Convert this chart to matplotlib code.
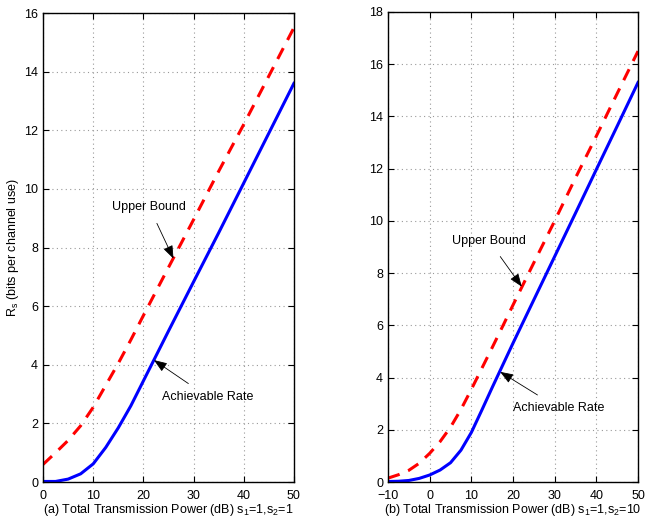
import matplotlib.pyplot as plt
import numpy as np

plt.rcParams['font.family'] = ['Liberation Sans', 'DejaVu Sans']
plt.rcParams['mathtext.default'] = 'regular'
fontsize = 9

# (a) s1=1, s2=1
pa = np.array([0, 2.5, 5, 7.5, 10, 12.5, 15, 17.5, 20, 22.5, 25, 30, 35, 40, 45, 50])
upper_a = np.array([0.6, 1.0, 1.42, 1.92, 2.55, 3.3, 4.05, 4.85, 5.68, 6.5, 7.32, 8.95, 10.6, 12.2, 13.85, 15.5])
rate_a = np.array([0.02, 0.02, 0.1, 0.28, 0.62, 1.18, 1.85, 2.6, 3.45, 4.3, 5.15, 6.83, 8.5, 10.2, 11.9, 13.6])

# (b) s1=1, s2=10
pb = np.array([-10, -7.5, -5, -2.5, 0, 2.5, 5, 7.5, 10, 12.5, 15, 17.5, 20, 25, 30, 35, 40, 45, 50])
upper_b = np.array([0.15, 0.28, 0.45, 0.72, 1.1, 1.55, 2.1, 2.78, 3.55, 4.35, 5.15, 5.96, 6.78, 8.4, 10.0, 11.65, 13.25, 14.88, 16.5])
rate_b = np.array([0.02, 0.03, 0.06, 0.14, 0.27, 0.46, 0.74, 1.22, 1.9, 2.75, 3.62, 4.47, 5.32, 6.98, 8.64, 10.3, 11.97, 13.63, 15.3])

fig = plt.figure(figsize=(6.45, 5.2), dpi=100)
ax1 = fig.add_axes([0.0667, 0.073, 0.389, 0.902])
ax2 = fig.add_axes([0.6016, 0.073, 0.3876, 0.904])

arrow = dict(arrowstyle='-|>,head_length=0.8,head_width=0.3', color='black', lw=0.6,
             shrinkA=6, shrinkB=0, mutation_scale=10)


def style(ax):
    ax.grid(True, linestyle=(0, (1, 3)), color='#999999', linewidth=0.8)
    ax.tick_params(direction='in', top=True, right=True, labelsize=fontsize, length=4)
    ax.tick_params(axis='x', pad=6)
    for s in ax.spines.values():
        s.set_linewidth(1.0)


ax1.plot(pa, upper_a, color='red', linestyle='--', linewidth=2.2, dashes=(4, 3))
ax1.plot(pa, rate_a, color='blue', linewidth=2.2)
ax1.set_xlim(0, 50)
ax1.set_ylim(0, 16)
ax1.set_xticks(np.arange(0, 51, 10))
ax1.set_yticks(np.arange(0, 17, 2))
ax1.set_xlabel('(a) Total Transmission Power (dB) s$_1$=1,s$_2$=1', fontsize=fontsize, labelpad=0)
ax1.set_ylabel('R$_s$ (bits per channel use)', fontsize=fontsize, labelpad=2)
ax1.annotate('Upper Bound', xy=(26, 7.62), xytext=(13.8, 9.38), fontsize=fontsize, va='center',
             arrowprops=arrow)
ax1.annotate('Achievable Rate', xy=(22.1, 4.16), xytext=(23.8, 2.9), fontsize=fontsize, va='center',
             arrowprops=arrow)
style(ax1)

ax2.plot(pb, upper_b, color='red', linestyle='--', linewidth=2.2, dashes=(4, 3))
ax2.plot(pb, rate_b, color='blue', linewidth=2.2)
ax2.set_xlim(-10, 50)
ax2.set_ylim(0, 18)
ax2.set_xticks(np.arange(-10, 51, 10))
ax2.set_yticks(np.arange(0, 19, 2))
ax2.set_xlabel('(b) Total Transmission Power (dB) s$_1$=1,s$_2$=10', fontsize=fontsize, labelpad=0)
ax2.annotate('Upper Bound', xy=(22.1, 7.48), xytext=(5.4, 9.23), fontsize=fontsize, va='center',
             arrowprops=arrow)
ax2.annotate('Achievable Rate', xy=(16.9, 4.22), xytext=(20.0, 2.83), fontsize=fontsize, va='center',
             arrowprops=arrow)
style(ax2)

plt.savefig('out.png', dpi=100)
